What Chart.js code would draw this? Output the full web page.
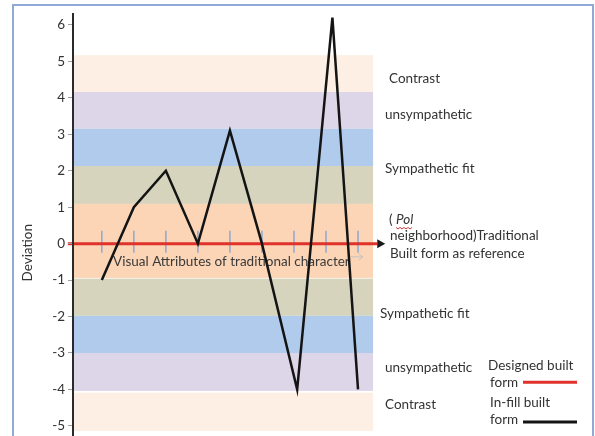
<!DOCTYPE html>
<html>
<head>
<meta charset="utf-8">
<script src="https://cdn.jsdelivr.net/npm/chart.js@4.4.1/dist/chart.umd.min.js"></script>
<style>
  html, body { margin: 0; padding: 0; background: #fff; }
  #wrap { width: 595px; height: 436px; position: relative; }
</style>
</head>
<body>
<div id="wrap"><canvas id="deviationChart"></canvas></div>
<script>
// in-fill built form
var infillX = [1, 2, 3, 4, 5, 6, 7.1, 8.2, 9];
var infillY = [-1, 1, 2, 0, 3.1, 0, -4, 6.2, -4];
// designed built form = the reference line at 0
var designedX = [-0.06, 9.6];
var designedY = [0, 0];

var attrTicks = [1, 2, 3, 4, 5, 6, 7, 8, 9];
var yTicks = [-5, -4, -3, -2, -1, 0, 1, 2, 3, 4, 5, 6];

// zones behind the line, top to bottom
var bandTop = [5.17, 4.16, 3.15, 2.13, 1.09, -0.96, -1.98, -3.0, -4.09];
var bandBottom = [4.16, 3.15, 2.13, 1.09, -0.94, -1.98, -3.0, -4.04, -5.14];
var bandColors = ['#fdefe3', '#ddd5e8', '#b0cbeb', '#d7d4bd', '#fbd5b6', '#d7d4bd', '#b0cbeb', '#ddd5e8', '#fdefe3'];
var bandEnd = 9.47;

var zoneLabels = ['Contrast', 'unsympathetic', 'Sympathetic fit', 'Sympathetic fit', 'unsympathetic', 'Contrast'];
var zoneLabelY = [4.52, 3.53, 2.05, -1.93, -3.41, -4.43];
var zoneLabelDx = [14, 10, 10, 5, 10, 10];

var axisCaption = 'Visual Attributes of traditional character';
var refLines = ['neighborhood)Traditional', 'Built form as reference'];

var FONT = '13.5px Lato, "Liberation Sans", sans-serif';
var TEXT = '#333';

var zonesPlugin = {
  id: 'zones',
  beforeDraw: function (chart) {
    var ctx = chart.ctx;
    ctx.save();
    ctx.strokeStyle = '#8eaad5';
    ctx.lineWidth = 2;
    ctx.strokeRect(13, 5, 580, 445);
    ctx.restore();
  },
  beforeDatasetsDraw: function (chart) {
    var ctx = chart.ctx, xs = chart.scales.x, ys = chart.scales.y;
    var left = chart.chartArea.left;
    var right = xs.getPixelForValue(bandEnd);
    ctx.save();
    for (var i = 0; i < bandColors.length; i++) {
      var t = ys.getPixelForValue(bandTop[i]);
      var b = ys.getPixelForValue(bandBottom[i]);
      ctx.fillStyle = bandColors[i];
      ctx.fillRect(left, t, right - left, b - t);
    }

    // caption under the axis
    ctx.font = FONT;
    ctx.fillStyle = '#3a3a3a';
    ctx.textBaseline = 'middle';
    var cx = xs.getPixelForValue(1.35), cy = ys.getPixelForValue(-0.5);
    ctx.fillText(axisCaption, cx, cy);
    var ce = cx + ctx.measureText(axisCaption).width;
    ctx.strokeStyle = '#c4c4c4';
    ctx.lineWidth = 1;
    ctx.beginPath();
    ctx.moveTo(ce + 1, cy - 5);
    ctx.lineTo(ce + 13, cy - 5);
    ctx.moveTo(ce + 9, cy - 8);
    ctx.lineTo(ce + 13, cy - 5);
    ctx.lineTo(ce + 9, cy - 2);
    ctx.stroke();

    // attribute ticks on the reference line
    var y0 = ys.getPixelForValue(0);
    ctx.strokeStyle = '#8fa7cf';
    ctx.lineWidth = 1.5;
    attrTicks.forEach(function (v) {
      var x = xs.getPixelForValue(v);
      ctx.beginPath();
      ctx.moveTo(x, y0 - 13);
      ctx.lineTo(x, y0 + 9);
      ctx.stroke();
    });
    ctx.restore();
  },
  afterDraw: function (chart) {
    var ctx = chart.ctx, xs = chart.scales.x, ys = chart.scales.y;
    var right = chart.chartArea.right;
    var y0 = ys.getPixelForValue(0);
    ctx.save();

    // arrow head on the reference line
    var ex = xs.getPixelForValue(designedX[designedX.length - 1]);
    ctx.fillStyle = '#1a1a1a';
    ctx.beginPath();
    ctx.moveTo(ex, y0 - 4.5);
    ctx.lineTo(ex + 8, y0);
    ctx.lineTo(ex, y0 + 4.5);
    ctx.closePath();
    ctx.fill();

    ctx.font = FONT;
    ctx.fillStyle = TEXT;
    ctx.textBaseline = 'middle';
    for (var i = 0; i < zoneLabels.length; i++) {
      ctx.fillText(zoneLabels[i], right + zoneLabelDx[i], ys.getPixelForValue(zoneLabelY[i]));
    }

    // "( Pol" with spell-check squiggle
    var py = ys.getPixelForValue(0.65);
    ctx.fillText('( ', right + 14, py);
    var px = right + 14 + ctx.measureText('( ').width;
    ctx.font = 'italic ' + FONT;
    ctx.fillText('Pol', px, py);
    var pw = ctx.measureText('Pol').width;
    ctx.strokeStyle = '#d23a3a';
    ctx.lineWidth = 1;
    ctx.beginPath();
    for (var k = 0; k <= pw; k += 2) {
      var yy = py + 8 + ((k / 2) % 2 ? 1 : -0.5);
      if (k === 0) ctx.moveTo(px + k, yy); else ctx.lineTo(px + k, yy);
    }
    ctx.stroke();
    ctx.font = FONT;
    ctx.fillText(refLines[0], right + 15, ys.getPixelForValue(0.21));
    ctx.fillText(refLines[1], right + 15, ys.getPixelForValue(-0.28));

    // hand-made legend
    var ds = chart.data.datasets;
    ctx.fillText('Designed built', right + 113, ys.getPixelForValue(-3.36));
    ctx.fillText('form', right + 115, ys.getPixelForValue(-3.82));
    ctx.fillText('In-fill built', right + 115, ys.getPixelForValue(-4.37));
    ctx.fillText('form', right + 115, ys.getPixelForValue(-4.84));
    ctx.lineWidth = 3;
    ctx.strokeStyle = ds[1].borderColor;
    ctx.beginPath();
    ctx.moveTo(right + 148, ys.getPixelForValue(-3.8));
    ctx.lineTo(right + 202, ys.getPixelForValue(-3.8));
    ctx.stroke();
    ctx.strokeStyle = ds[0].borderColor;
    ctx.beginPath();
    ctx.moveTo(right + 148, ys.getPixelForValue(-4.89));
    ctx.lineTo(right + 202, ys.getPixelForValue(-4.89));
    ctx.stroke();

    // y title
    ctx.translate(28, ys.getPixelForValue(-0.25));
    ctx.rotate(-Math.PI / 2);
    ctx.textAlign = 'center';
    ctx.fillStyle = '#333';
    ctx.fillText('Deviation', 0, 0);
    ctx.restore();
  }
};

var infillPoints = infillX.map(function (x, i) { return { x: x, y: infillY[i] }; });
var designedPoints = designedX.map(function (x, i) { return { x: x, y: designedY[i] }; });

new Chart(document.getElementById('deviationChart'), {
  type: 'line',
  data: {
    datasets: [
      {
        label: 'In-fill built form',
        data: infillPoints,
        borderColor: '#141414',
        borderWidth: 2.5,
        pointRadius: 0,
        tension: 0,
        clip: false
      },
      {
        label: 'Designed built form',
        data: designedPoints,
        borderColor: '#e0312b',
        borderWidth: 3,
        pointRadius: 0,
        clip: false
      }
    ]
  },
  options: {
    responsive: true,
    maintainAspectRatio: false,
    animation: false,
    layout: { padding: { top: 14, right: 220, bottom: 1, left: 0 } },
    plugins: {
      legend: { display: false },
      tooltip: { enabled: false }
    },
    scales: {
      x: {
        type: 'linear',
        display: false,
        min: 0.1,
        max: 9.53
      },
      y: {
        type: 'linear',
        min: -5.25,
        max: 6.3,
        afterBuildTicks: function (scale) {
          scale.ticks = yTicks.map(function (v) { return { value: v }; });
        },
        afterFit: function (scale) {
          scale.width = 73;
          scale.paddingTop = 0;
          scale.paddingBottom = 0;
        },
        ticks: {
          autoSkip: false,
          padding: 3,
          color: '#333',
          font: { family: 'Lato', size: 13.5 },
          callback: function (v) { return String(v); }
        },
        grid: {
          z: 1,
          drawOnChartArea: false,
          drawTicks: true,
          tickLength: 5,
          color: '#a0a0a0'
        },
        border: { z: 1, display: true, color: '#2a2a2a', width: 2 }
      }
    }
  },
  plugins: [zonesPlugin]
});
</script>
</body>
</html>
